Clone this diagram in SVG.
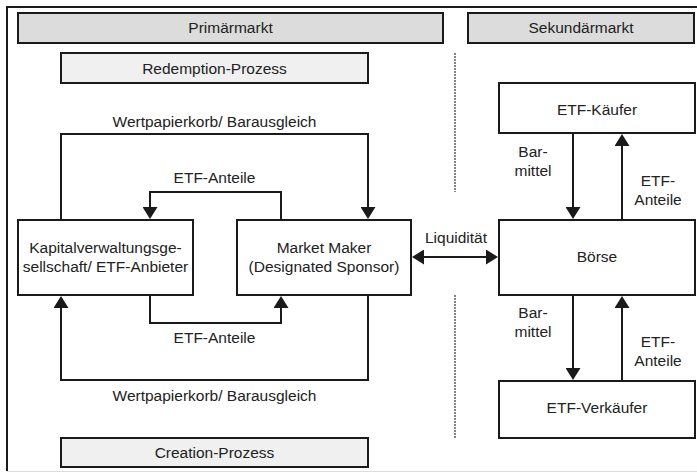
<svg xmlns="http://www.w3.org/2000/svg" width="697" height="473" viewBox="0 0 697 473">
<defs>
<marker id="ah" markerUnits="userSpaceOnUse" markerWidth="13" markerHeight="15" refX="9" refY="7.5" orient="auto">
<path d="M0,0 L12,7.5 L0,15 z" fill="#1a1a1a"/>
</marker>
<marker id="ahs" markerUnits="userSpaceOnUse" markerWidth="13" markerHeight="15" refX="3" refY="7.5" orient="auto">
<path d="M12,0 L0,7.5 L12,15 z" fill="#1a1a1a"/>
</marker>
<style>
text{font-family:"Liberation Sans",Arial,sans-serif;font-size:15.5px;fill:#222;text-anchor:middle}
.box{fill:#fff;stroke:#1a1a1a;stroke-width:2}
.hdr{fill:#dcdcdc;stroke:#1a1a1a;stroke-width:2}
.sub{fill:#f0f0f0;stroke:#1a1a1a;stroke-width:2}
.c{fill:none;stroke:#1a1a1a;stroke-width:2}
.arr{marker-end:url(#ah)}
</style>
</defs>
<rect width="697" height="473" fill="#fff"/>
<g id="frame">
<path d="M7,471 V7 H697" fill="none" stroke="#1a1a1a" stroke-width="2"/>
<line x1="7" y1="471.5" x2="697" y2="471.5" stroke="#ddd" stroke-width="1"/>
<path d="M455,53 V192 M455,295 V438" stroke="#333" stroke-width="1.2" stroke-dasharray="2,1"/>
</g>
<g id="primaermarkt"><rect class="hdr" x="18" y="13" width="425" height="30"/><text x="230.5" y="33">Primärmarkt</text></g>
<g id="sekundaermarkt"><rect class="hdr" x="468" y="13" width="226" height="30"/><text x="581" y="33">Sekundärmarkt</text></g>
<g id="redemption"><rect class="sub" x="61" y="53" width="307" height="30"/><text x="214.5" y="74">Redemption-Prozess</text></g>
<g id="creation"><rect class="sub" x="61" y="438" width="307" height="29"/><text x="214.5" y="458">Creation-Prozess</text></g>
<g id="kapital"><rect class="box" x="18" y="220" width="175" height="75"/><text x="105.5" y="253">Kapitalverwaltungsge-</text><text x="105.5" y="272">sellschaft/ ETF-Anbieter</text></g>
<g id="marketmaker"><rect class="box" x="237" y="220" width="174" height="75"/><text x="324" y="253">Market Maker</text><text x="324" y="272">(Designated Sponsor)</text></g>
<g id="kaeufer"><rect class="box" x="499" y="83" width="196" height="50"/><text x="597" y="115">ETF-Käufer</text></g>
<g id="boerse"><rect class="box" x="499" y="220" width="196" height="75"/><text x="597" y="262">Börse</text></g>
<g id="verkaeufer"><rect class="box" x="499" y="381" width="196" height="57"/><text x="597" y="413">ETF-Verkäufer</text></g>
<g id="connectors">
<path class="c arr" d="M61,219 V134 H368 V216"/>
<path class="c arr" d="M281,219 V192 H150 V216"/>
<path class="c arr" d="M150,296 V323 H281 V299"/>
<path class="c arr" d="M368,296 V380 H61 V299"/>
<path class="c" d="M415,257 H495" marker-start="url(#ahs)" marker-end="url(#ah)"/>
<path class="c arr" d="M573,134 V216"/>
<path class="c arr" d="M622,219 V137"/>
<path class="c arr" d="M573,296 V377"/>
<path class="c arr" d="M622,380 V299"/>
<text x="214.5" y="127">Wertpapierkorb/ Barausgleich</text>
<text x="214.5" y="183">ETF-Anteile</text>
<text x="214.5" y="343">ETF-Anteile</text>
<text x="214.5" y="401">Wertpapierkorb/ Barausgleich</text>
<text x="456" y="243">Liquidität</text>
<text x="533" y="157">Bar-</text>
<text x="533" y="176">mittel</text>
<text x="658" y="186">ETF-</text>
<text x="658" y="205">Anteile</text>
<text x="533" y="318">Bar-</text>
<text x="533" y="337">mittel</text>
<text x="658" y="347">ETF-</text>
<text x="658" y="366">Anteile</text>
</g>
</svg>
